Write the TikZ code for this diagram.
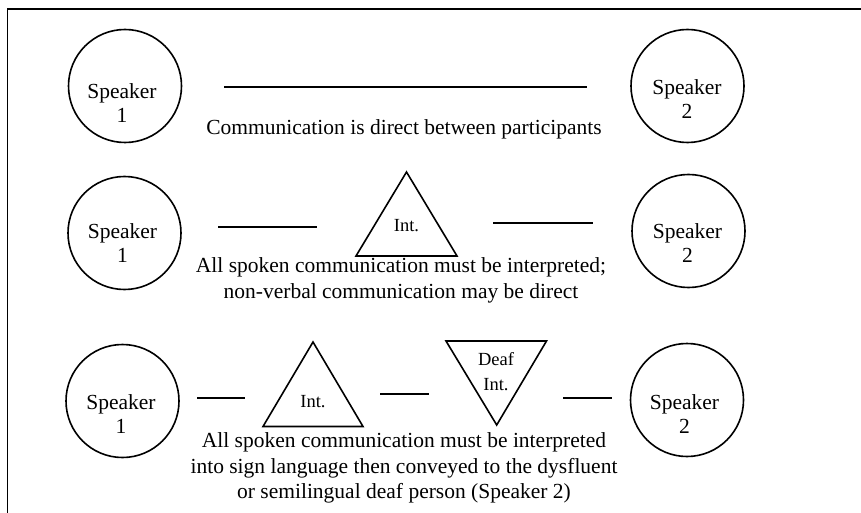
\documentclass[tikz,border=0pt]{standalone}
\usepackage{fontspec}
\setmainfont{Liberation Serif}
\usetikzlibrary{calc}
\begin{document}
\begin{tikzpicture}[x=1pt,y=-1pt,
  spk/.style={draw,circle,line width=1.6pt,minimum size=113pt,inner sep=0pt},
  spkt/.style={align=center,font=\fontsize{21.5}{24}\selectfont,inner sep=0pt},
  captxt/.style={align=center,font=\fontsize{21.5}{25.5}\selectfont,inner sep=0pt},
  intt/.style={align=center,font=\fontsize{18.5}{25}\selectfont,inner sep=0pt},
  conn/.style={line width=1.6pt},
  tri/.style={line width=1.6pt,line join=miter}]
\useasboundingbox (0,0) rectangle (861,513);
% frame
\draw[line width=1.6pt] (7.5,513) -- (7.5,9) -- (861,9);

% Row 1
\node[spk] (a1) at (125,86) {};
\node[spk] (b1) at (687.5,86) {};
\node[spkt] (a1t) at (122,102.7) {Speaker\\1};
\node[spkt] (b1t) at (687,98.7) {Speaker\\2};
\draw[conn] ($(a1)+(99,1)$) -- ($(b1)+(-100.5,1)$);
\node[captxt,anchor=base] (c1) at (404,135) {Communication is direct between participants};

% Row 2
\node[spk] (a2) at (124.5,233) {};
\node[spk] (b2) at (688.5,231) {};
\node[spkt] (a2t) at (122.5,242.7) {Speaker\\1};
\node[spkt] (b2t) at (687.5,242.7) {Speaker\\2};
\node[intt] (t2) at (406.5,226) {Int.};
\draw[tri] ($(t2)+(0,-54)$) -- ($(t2)+(-50.5,30)$) -- ($(t2)+(50.5,30)$) -- cycle;
\draw[conn] ($(a2)+(93.5,-6)$) -- ($(t2)+(-89.5,1)$);
\draw[conn] ($(t2)+(86.5,-3)$) -- ($(b2)+(-95.5,-8)$);
\node[captxt] (c2) at (401,280.5) {All spoken communication must be interpreted;\\non-verbal communication may be direct};

% Row 3
\node[spk] (a3) at (122.5,401) {};
\node[spk] (b3) at (687,400) {};
\node[spkt] (a3t) at (121,413.7) {Speaker\\1};
\node[spkt] (b3t) at (684.5,413.7) {Speaker\\2};
\node[intt] (t3) at (313,401.5) {Int.};
\draw[tri] ($(t3)+(0,-59.5)$) -- ($(t3)+(-50,25)$) -- ($(t3)+(50,25)$) -- cycle;
\node[intt] (d3) at (496,371.5) {Deaf\\Int.};
\draw[tri] ($(d3)+(-50,-30.5)$) -- ($(d3)+(50.5,-30.5)$) -- ($(d3)+(0.7,53.5)$) -- cycle;
\draw[conn] ($(a3)+(74.5,-3)$) -- ($(t3)+(-68,-3.5)$);
\draw[conn] ($(t3)+(67,-7.5)$) -- ($(d3)+(-67,22.5)$);
\draw[conn] ($(d3)+(67,26.5)$) -- ($(b3)+(-75,-2)$);
\node[captxt] (c3) at (404,468) {All spoken communication must be interpreted\\into sign language then conveyed to the dysfluent\\or semilingual deaf person (Speaker 2)};
\end{tikzpicture}
\end{document}
